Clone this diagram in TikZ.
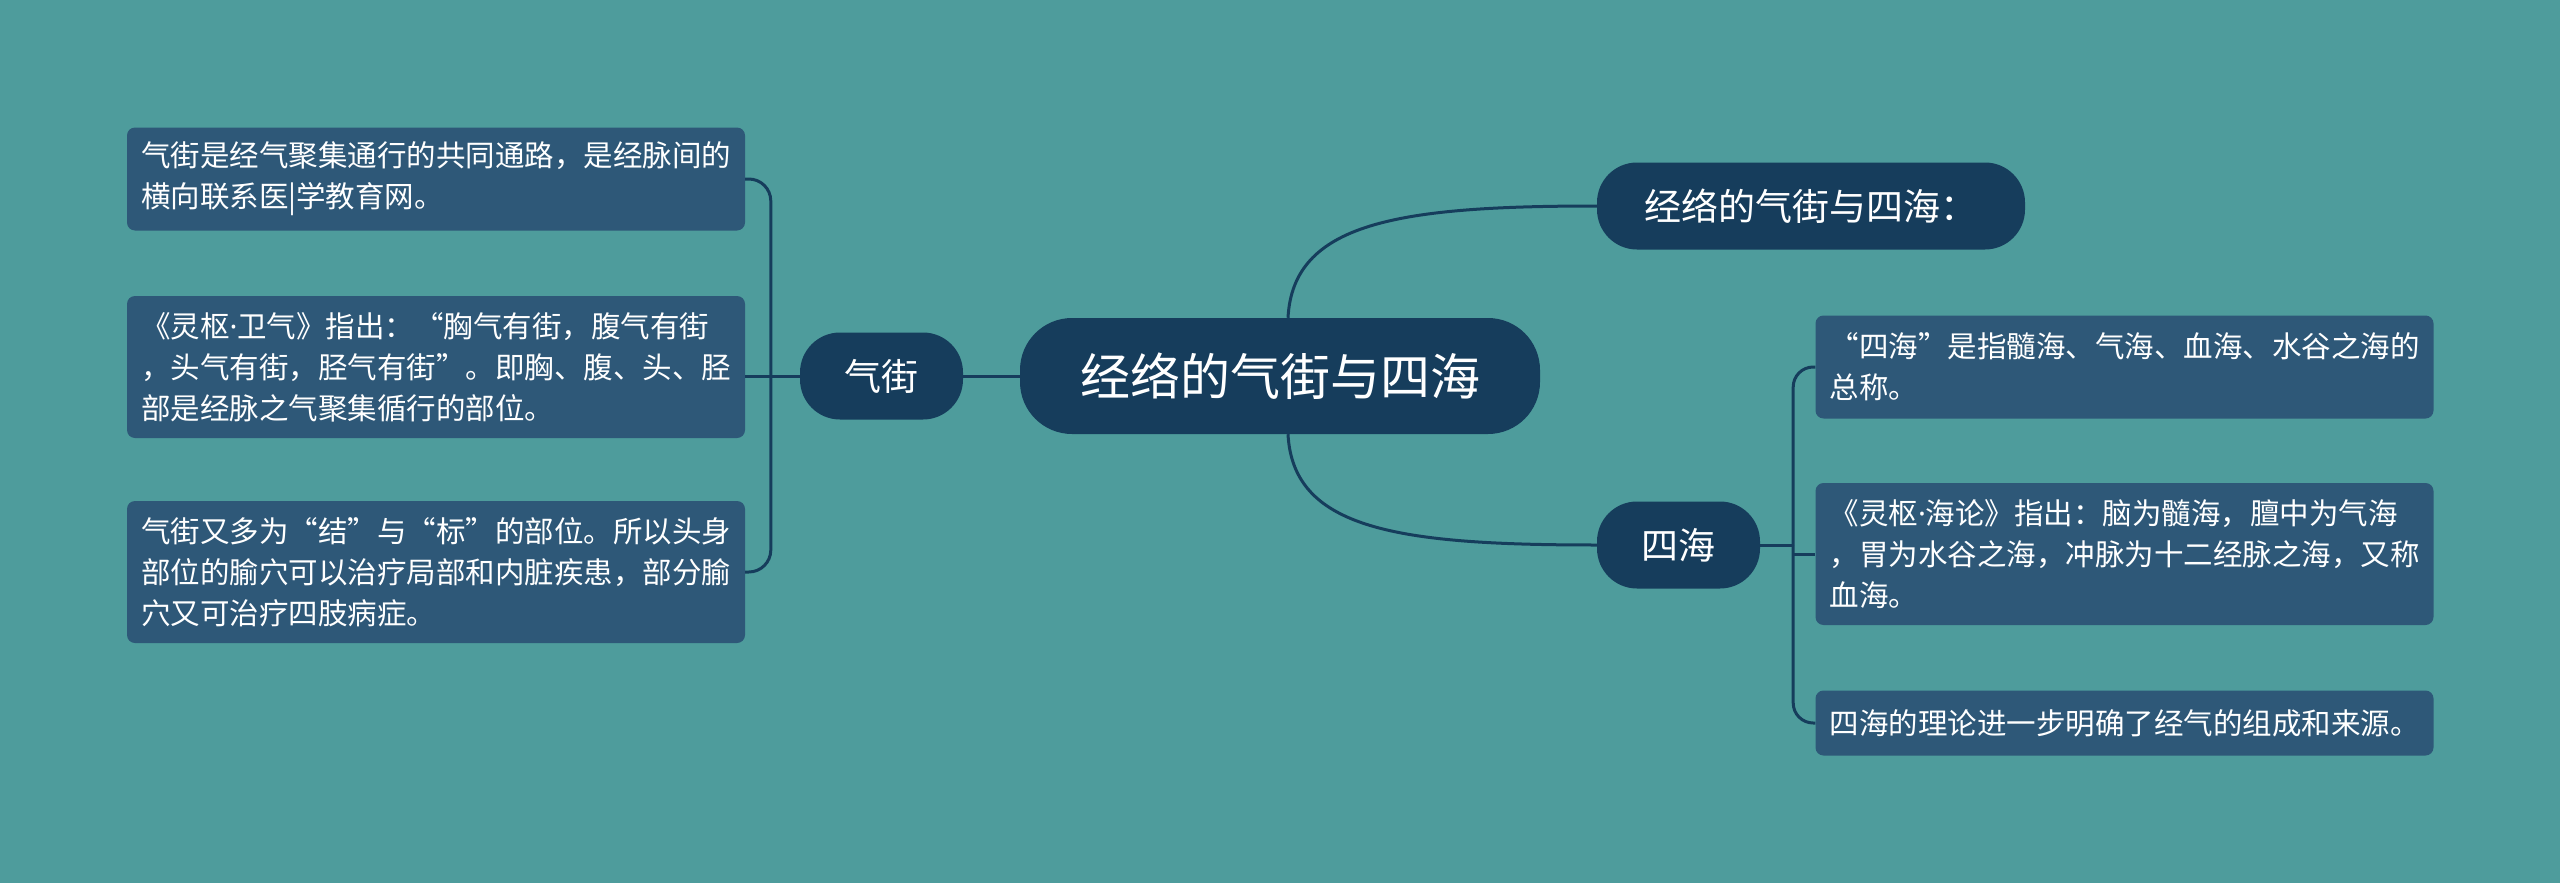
\documentclass[tikz,border=0pt]{standalone}
\usepackage{fontspec}
\setmainfont{Noto Sans CJK SC}
\newfontfamily\dotfont{Noto Sans}
\newcommand{\mdot}{{\dotfont ·}}
\definecolor{bgteal}{HTML}{4E9C9C}
\definecolor{navy}{HTML}{163D5C}
\definecolor{leafblue}{HTML}{2E5878}
\begin{document}
\begin{tikzpicture}[x=1pt,y=-1pt,
  topic/.style={fill=navy,text=white,rounded corners=40pt,minimum height=87pt,inner sep=0pt,font=\fontsize{37}{44}\selectfont},
  leaf/.style={fill=leafblue,text=white,rounded corners=8pt,text width=590pt,inner xsep=14pt,inner ysep=0pt,align=left,font=\fontsize{29.5}{41}\selectfont},
  link/.style={draw=navy,line width=3pt}]
\useasboundingbox[fill=bgteal] (0,0) rectangle (2560,883);

\node[topic,minimum width=520pt,minimum height=116pt,rounded corners=52pt,font=\fontsize{50}{60}\selectfont] (root) at (1280,376) {经络的气街与四海};
\node[topic,minimum width=428pt] (title) at (1811,206) {经络的气街与四海：};
\node[topic,minimum width=163pt] (qj) at (881.5,376) {气街};
\node[topic,minimum width=163pt] (sh) at (1678.5,545) {四海};

\node[leaf,minimum height=103pt] (qj1) at (436,179) {气街是经气聚集通行的共同通路，是经脉间的\\横向联系医|学教育网。};
\node[leaf,minimum height=142pt] (qj2) at (436,367) {《灵枢\mdot 卫气》指出：“胸气有街，腹气有街\\，头气有街，胫气有街”。即胸、腹、头、胫\\部是经脉之气聚集循行的部位。};
\node[leaf,minimum height=142pt] (qj3) at (436,572) {气街又多为“结”与“标”的部位。所以头身\\部位的腧穴可以治疗局部和内脏疾患，部分腧\\穴又可治疗四肢病症。};

\node[leaf,minimum height=103pt] (sh1) at (2124.5,367) {“四海”是指髓海、气海、血海、水谷之海的\\总称。};
\node[leaf,minimum height=142pt] (sh2) at (2124.5,554) {《灵枢\mdot 海论》指出：脑为髓海，膻中为气海\\，胃为水谷之海，冲脉为十二经脉之海，又称\\血海。};
\node[leaf,minimum height=65pt] (sh3) at (2124.5,723) {四海的理论进一步明确了经气的组成和来源。};

\draw[link] (root.west) -- (qj.east);
\draw[link] ([xshift=8pt]root.north) .. controls +(5,-95) and +(-200,0) .. (title.west);
\draw[link] ([xshift=8pt]root.south) .. controls +(5,95) and +(-200,0) .. (sh.west);

\coordinate (qjfork) at ([xshift=-29pt]qj.west);
\draw[link] (qj.west) -- (qjfork);
\draw[link,rounded corners=22pt] (qjfork) |- (qj1.east);
\draw[link] (qjfork) -- (qj2.east |- qjfork);
\draw[link,rounded corners=22pt] (qjfork) |- (qj3.east);

\coordinate (shfork) at ([xshift=33pt]sh.east);
\draw[link] (sh.east) -- (shfork);
\draw[link,rounded corners=20pt] (shfork) |- (sh1.west);
\draw[link] (shfork |- sh2.west) -- (sh2.west);
\draw[link,rounded corners=20pt] (shfork) |- (sh3.west);
\end{tikzpicture}
\end{document}
